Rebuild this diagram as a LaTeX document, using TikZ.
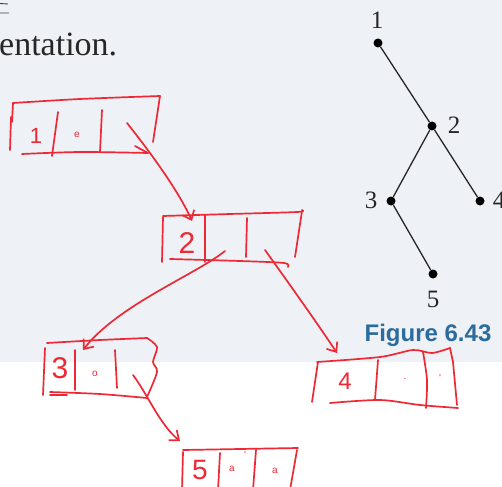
\documentclass[tikz,border=0pt]{standalone}
\usepackage{fontspec}
\setmainfont{Liberation Serif}
\newfontfamily\figfont{Liberation Sans}
\usetikzlibrary{arrows.meta}
\definecolor{bgpanel}{RGB}{238,241,246}
\definecolor{penred}{RGB}{238,40,52}
\definecolor{figblue}{RGB}{44,108,156}
\tikzset{
  pen/.style={draw=penred, line width=1.7pt, line cap=round, line join=round},
  penarrow/.style={pen, -{Straight Barb[length=8pt,width=13pt,line width=1.7pt]}},
  hand/.style={text=penred, font=\figfont\fontsize{30}{30}\selectfont, inner sep=0pt},
  handsmall/.style={text=penred, font=\figfont\fontsize{10}{10}\selectfont, inner sep=0pt},
  treedot/.style={circle, fill=black, minimum size=9pt, inner sep=0pt},
  treelabel/.style={font=\fontsize{25}{25}\selectfont, text=black!85, inner sep=0pt},
  treeedge/.style={draw=black!85, line width=1.3pt}
}
\begin{document}
\begin{tikzpicture}[x=1pt,y=-1pt]
\useasboundingbox (0,0) rectangle (502,486);
% background panels
\fill[bgpanel] (0,0) rectangle (502,362);
\fill[white] (0,362) rectangle (502,486);
% text fragment
\draw[black!75, line width=0.9pt] (0,3.5) -- (8,4) (0,13) -- (9,13);
\node[anchor=base west, inner sep=0pt, font=\fontsize{34}{34}\selectfont, text=black!85] (txt) at (-1,56) {entation.};
% tree
\node[treedot] (t1) at (378,43) {};
\node[treedot] (t2) at (432,126) {};
\node[treedot] (t3) at (391,201) {};
\node[treedot] (t4) at (480,201) {};
\node[treedot] (t5) at (433,274) {};
\draw[treeedge] (t1) -- (t2) (t2) -- (t3) (t2) -- (t4) (t3) -- (t5);
\node[treelabel] (l1) at (377,20) {1};
\node[treelabel] (l2) at (454,125) {2};
\node[treelabel] (l3) at (371,200) {3};
\node[treelabel] (l4) at (499,200) {4};
\node[treelabel] (l5) at (433,299) {5};
\node[text=figblue, font=\figfont\bfseries\fontsize{24}{24}\selectfont, inner sep=0pt] (fig) at (428,335) {Figure 6.43};
% ---------- box 1
\draw[pen] plot[smooth] coordinates {(13,103) (80,99) (160,96)};
\draw[pen] (13,103) -- (12,122);
\draw[pen] (11,117) -- (10,150);
\draw[pen] plot[smooth] coordinates {(22,154) (80,152) (148,153)};
\draw[pen] (135,146) -- (148,153);
\draw[pen] (160,96) -- (153,142);
\node[hand, font=\figfont\fontsize{22}{22}\selectfont] (v1) at (36,136) {1};
\draw[pen] (58,112) -- (52,156);
\node[handsmall] (n1) at (77,135) {e};
\draw[pen] (102,110) -- (100,152);
\coordinate (p1) at (127,123);
% ---------- box 2
\draw[pen] plot[smooth] coordinates {(163,216) (230,214) (297,212) (302,210)};
\draw[pen] (163,217) -- (162,262);
\draw[pen] plot[smooth] coordinates {(170,259) (240,261) (284,263) (288,267)};
\draw[pen] (302,211) -- (295,257);
\draw[pen] (205,215) -- (205,262);
\node[hand] (v2) at (187,243) {2};
\draw[pen] (247,218) -- (246,257);
\coordinate (in2) at (192,221);
\coordinate (p2a) at (225,251);
\coordinate (p2b) at (265,250);
% ---------- box 3
\draw[pen] plot[smooth] coordinates {(47,343) (100,340) (147,338)};
\draw[pen] plot[smooth] coordinates {(147,338) (157,347) (153,362) (157,372) (147,397)};
\draw[pen] (45,348) -- (43,395);
\draw[pen] plot[smooth] coordinates {(50,392) (100,394) (147,398)};
\draw[pen] (50,395) -- (67,395);
\node[hand] (v3) at (60,368) {3};
\draw[pen] (75,350) -- (75,390);
\node[handsmall] (n3) at (95,374) {o};
\draw[pen] (115,350) -- (117,388);
\coordinate (in3) at (83,350);
\coordinate (p3) at (133,375);
% ---------- box 4
\draw[pen] plot[smooth] coordinates {(317,362) (380,357) (413,350) (432,353) (450,348)};
\draw[pen] (318,362) -- (312,402);
\draw[pen] plot[smooth] coordinates {(330,403) (380,400) (420,405) (458,408)};
\draw[pen] (450,348) -- (453,362) -- (457,405);
\node[hand, font=\figfont\fontsize{24}{24}\selectfont] (v4) at (345,381) {4};
\draw[pen] (378,360) -- (375,400);
\node[handsmall] (n4a) at (405,379) {.};
\draw[pen] plot[smooth] coordinates {(423,352) (427,380) (426,408)};
\node[handsmall] (n4b) at (440,378) {'};
\coordinate (in4) at (337,353);
% ---------- box 5
\draw[pen] plot[smooth] coordinates {(183,450) (240,449) (298,448)};
\draw[pen] (183,452) -- (182,490);
\node[hand, font=\figfont\fontsize{28}{28}\selectfont] (v5) at (200,470) {5};
\draw[pen] (220,453) -- (218,490);
\node[handsmall] (n5a) at (232,469) {a};
\node[handsmall] (n5b) at (245,455) {'};
\draw[pen] (256,450) -- (253,490);
\node[handsmall] (n5c) at (275,471) {a};
\draw[pen] (297,450) -- (290,490);
\coordinate (in5) at (180,441);
% ---------- arrows
\draw[penarrow] (p1) .. controls (150,152) and (178,190) .. (in2);
\draw[penarrow] (p2a) .. controls (195,275) and (118,305) .. (in3);
\draw[penarrow] (p2b) .. controls (290,285) and (315,320) .. (in4);
\draw[penarrow] (p3) .. controls (148,395) and (160,425) .. (in5);
\end{tikzpicture}
\end{document}
